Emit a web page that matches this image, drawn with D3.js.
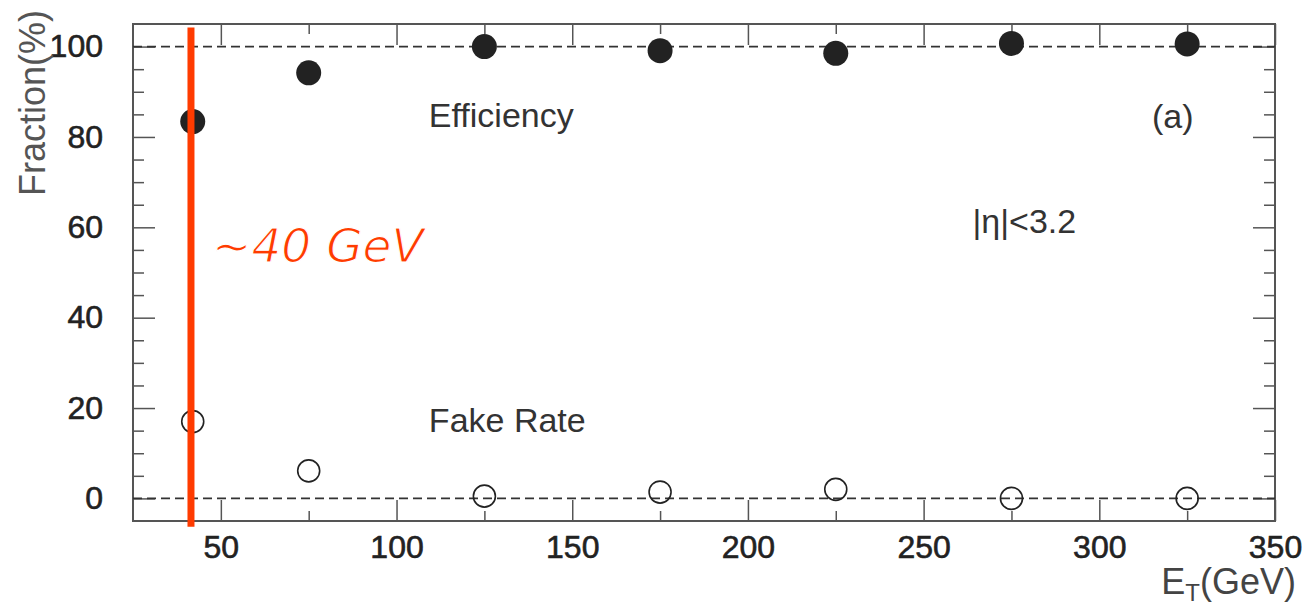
<!DOCTYPE html>
<html>
<head>
<meta charset="utf-8">
<script src="https://cdn.jsdelivr.net/npm/d3@7"></script>
<style>
  body { margin: 0; background: #fff; }
  svg { display: block; font-family: "Liberation Sans", Arial, sans-serif; }
</style>
</head>
<body>
<svg id="chart" width="1307" height="608"></svg>
<script>
`use strict`;

// E_T bin centres (GeV) and the two measured fractions (%)
const etBins = [42, 75, 125, 175, 225, 275, 325];
const efficiency = [83.4, 94.2, 100.0, 99.1, 98.5, 100.7, 100.6];
const fakeRate = [17.0, 6.1, 0.5, 1.4, 2.0, 0.0, 0.0];

const xMajor = [50, 100, 150, 200, 250, 300, 350];
const xMinor = [75, 125, 175, 225, 275, 325];
const yMajor = [0, 20, 40, 60, 80, 100];
const yMinor = [5, 10, 15, 25, 30, 35, 45, 50, 55, 65, 70, 75, 85, 90, 95];
const refLines = [0, 100];
const cutEt = 41.5;

(function () {

  const svg = d3.select(`#chart`);

  const L = 133, R = 1275, T = 24, B = 521;

  let x = d3.scaleLinear().domain([25, 350]).range([L, R]);
  let y = d3.scaleLinear().domain([-5, 105]).range([B, T]);

  let tickStyle = g => {
    g.select(`.domain`).remove();
    g.selectAll(`.tick line`).attr(`stroke`, `#555`).style(`stroke-width`, 1.5);
    g.selectAll(`.tick text`)
      .attr(`fill`, `#222`)
      .attr(`stroke`, `#222`)
      .style(`stroke-width`, 0.6)
      .style(`font-size`, `32px`);
  }

  // bottom axis: ticks point inward, labels below
  svg.append(`g`).attr(`transform`, `translate(0,${B})`)
    .call(d3.axisBottom(x).tickValues(xMajor).tickSize(-21).tickPadding(14).tickFormat(d3.format(`d`)))
    .call(tickStyle);
  svg.append(`g`).attr(`transform`, `translate(0,${B})`)
    .call(d3.axisBottom(x).tickValues(xMinor).tickSize(-10).tickFormat(``))
    .call(tickStyle);

  // top axis mirrors bottom, no labels
  svg.append(`g`).attr(`transform`, `translate(0,${T})`)
    .call(d3.axisTop(x).tickValues(xMajor).tickSize(-21).tickFormat(``))
    .call(tickStyle);
  svg.append(`g`).attr(`transform`, `translate(0,${T})`)
    .call(d3.axisTop(x).tickValues(xMinor).tickSize(-10).tickFormat(``))
    .call(tickStyle);

  // left axis
  svg.append(`g`).attr(`transform`, `translate(${L},0)`)
    .call(d3.axisLeft(y).tickValues(yMajor).tickSize(-22).tickPadding(30).tickFormat(d3.format(`d`)))
    .call(tickStyle);
  svg.append(`g`).attr(`transform`, `translate(${L},0)`)
    .call(d3.axisLeft(y).tickValues(yMinor).tickSize(-11).tickFormat(``))
    .call(tickStyle);

  // right axis
  svg.append(`g`).attr(`transform`, `translate(${R},0)`)
    .call(d3.axisRight(y).tickValues(yMajor).tickSize(-22).tickFormat(``))
    .call(tickStyle);
  svg.append(`g`).attr(`transform`, `translate(${R},0)`)
    .call(d3.axisRight(y).tickValues(yMinor).tickSize(-11).tickFormat(``))
    .call(tickStyle);

  // frame
  svg.append(`rect`)
    .attr(`x`, L).attr(`y`, T)
    .attr(`width`, R - L).attr(`height`, B - T)
    .attr(`fill`, `none`)
    .attr(`stroke`, `#555`)
    .style(`stroke-width`, 2);

  // dashed reference lines at 0 and 100 %
  svg.selectAll(`line.ref`).data(refLines)
    .enter()
    .append(`line`)
    .attr(`class`, `ref`)
    .attr(`x1`, L).attr(`x2`, R)
    .attr(`y1`, d => y(d)).attr(`y2`, d => y(d))
    .attr(`stroke`, `#333`)
    .attr(`stroke-dasharray`, `9,5`)
    .style(`stroke-width`, 1.7);

  let eff = etBins.map((e, i) => ({et: e, v: efficiency[i]}));
  let fake = etBins.map((e, i) => ({et: e, v: fakeRate[i]}));

  svg.selectAll(`circle.eff`).data(eff)
    .enter()
    .append(`circle`)
    .attr(`class`, `eff`)
    .attr(`cx`, d => x(d.et))
    .attr(`cy`, d => y(d.v))
    .attr(`r`, 12.5)
    .attr(`fill`, `#222`);

  svg.selectAll(`circle.fake`).data(fake)
    .enter()
    .append(`circle`)
    .attr(`class`, `fake`)
    .attr(`cx`, d => x(d.et))
    .attr(`cy`, d => y(d.v))
    .attr(`r`, 11)
    .attr(`fill`, `none`)
    .attr(`stroke`, `#222`)
    .style(`stroke-width`, 1.6);

  // red threshold marker
  svg.append(`line`)
    .attr(`x1`, x(cutEt)).attr(`x2`, x(cutEt))
    .attr(`y1`, y(104.2)).attr(`y2`, y(-6.3))
    .attr(`stroke`, `#ff3b00`)
    .style(`stroke-width`, 7);

  // thin the glyphs a little with a white outline drawn over the fill
  svg.append(`text`)
    .attr(`x`, x(47.5)).attr(`y`, y(52.4))
    .attr(`fill`, `#ff3b00`)
    .attr(`stroke`, `#fff`)
    .style(`stroke-width`, 1.2)
    .style(`font-family`, `"DejaVu Sans", sans-serif`)
    .style(`font-size`, `47px`)
    .style(`font-style`, `italic`)
    .text(`~40 GeV`);

  // in-plot labels
  let labels = [
    {t: `Efficiency`, et: 109.2, v: 82.2},
    {t: `Fake Rate`, et: 109.2, v: 14.6},
    {t: `(a)`, et: 315.0, v: 82.0},
    {t: `|η|<3.2`, et: 263.9, v: 58.8}
  ];

  svg.selectAll(`text.lab`).data(labels)
    .enter()
    .append(`text`)
    .attr(`class`, `lab`)
    .attr(`x`, d => x(d.et))
    .attr(`y`, d => y(d.v))
    .attr(`fill`, `#333`)
    .style(`font-size`, `34px`)
    .text(d => d.t);

  // axis titles
  svg.append(`text`)
    .attr(`transform`, `translate(45,10) rotate(-90)`)
    .attr(`text-anchor`, `end`)
    .attr(`fill`, `#555`)
    .style(`font-size`, `36px`)
    .text(`Fraction(%)`);

  let xt = svg.append(`text`)
    .attr(`x`, 1296).attr(`y`, 594)
    .attr(`text-anchor`, `end`)
    .attr(`fill`, `#444`)
    .style(`font-size`, `36px`);
  xt.append(`tspan`).text(`E`);
  xt.append(`tspan`).attr(`dy`, 7).style(`font-size`, `24px`).text(`T`);
  xt.append(`tspan`).attr(`dy`, -7).text(`(GeV)`);

})();
</script>
</body>
</html>
